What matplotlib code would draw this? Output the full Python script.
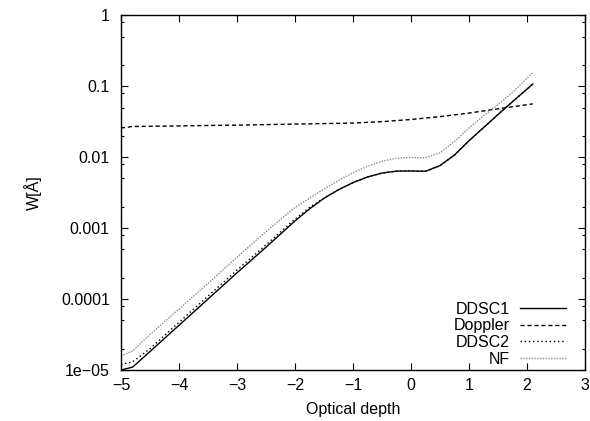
import matplotlib
matplotlib.use("Agg")
import matplotlib.pyplot as plt
from matplotlib.ticker import LogLocator, FixedLocator, FixedFormatter, NullFormatter

plt.rcParams['font.family'] = ['Liberation Sans', 'DejaVu Sans']
plt.rcParams['font.size'] = 11.5

# optical depth grid (log10 of tau)
depth = [-5.0, -4.8, -4.5, -4.0, -3.5, -3.0, -2.5, -2.0, -1.75, -1.5, -1.25,
         -1.0, -0.75, -0.5, -0.25, 0.0, 0.25, 0.5, 0.75, 1.0, 1.25, 1.5, 1.75, 2.1]

# equivalent widths in Angstrom
w_ddsc1 = [1.00e-5, 1.10e-5, 1.82e-5, 4.27e-5, 1.00e-4, 2.34e-4, 5.37e-4, 1.26e-3,
           1.86e-3, 2.63e-3, 3.47e-3, 4.37e-3, 5.25e-3, 5.96e-3, 6.35e-3, 6.38e-3,
           6.31e-3, 7.59e-3, 1.07e-2, 1.70e-2, 2.60e-2, 3.98e-2, 6.03e-2, 0.107]
w_doppler = [0.0257, 0.0270, 0.0272, 0.0275, 0.0279, 0.0282, 0.0287, 0.0292,
             0.0294, 0.0297, 0.0299, 0.0302, 0.0309, 0.0316, 0.0327, 0.0339,
             0.0355, 0.0372, 0.0394, 0.0417, 0.0447, 0.0479, 0.0513, 0.0562]
w_ddsc2 = [1.2e-5, 1.3e-5, 2.0e-5, 4.7e-5, 1.1e-4, 2.56e-4, 5.8e-4, 1.34e-3,
           1.95e-3, 2.65e-3, 3.47e-3, 4.37e-3, 5.25e-3, 5.96e-3, 6.35e-3, 6.38e-3,
           6.31e-3, 7.59e-3, 1.07e-2, 1.70e-2, 2.60e-2, 3.98e-2, 6.03e-2, 0.107]
w_nf = [1.58e-5, 1.86e-5, 3.16e-5, 7.24e-5, 1.66e-4, 3.89e-4, 8.91e-4, 1.95e-3,
        2.63e-3, 3.55e-3, 4.68e-3, 6.03e-3, 7.41e-3, 8.71e-3, 9.66e-3, 9.89e-3,
        9.77e-3, 1.15e-2, 1.66e-2, 2.57e-2, 3.80e-2, 5.50e-2, 8.13e-2, 0.155]

y_ticks = [1e-5, 1e-4, 1e-3, 1e-2, 1e-1, 1]
y_ticklabels = ['1e\u221205', '0.0001', '0.001', '0.01', '0.1', '1']

fig = plt.figure(figsize=(5.9, 4.21), dpi=100)
ax = fig.add_axes([0.205, 0.121, 0.7865, 0.843])

ax.plot(depth, w_ddsc1, color='black', lw=1.0, label='DDSC1')
ax.plot(depth, w_doppler, color='black', lw=1.0, dashes=(3, 2), label='Doppler')
ax.plot(depth, w_ddsc2, color='black', lw=1.0, dashes=(1, 2), label='DDSC2')
ax.plot(depth, w_nf, color='#8a8a8a', lw=1.0, dashes=(1, 1), label='NF')

ax.set_yscale('log')
ax.set_xlim(-5, 3)
ax.set_ylim(1e-5, 1)
ax.yaxis.set_major_locator(FixedLocator(y_ticks))
ax.yaxis.set_major_formatter(FixedFormatter(y_ticklabels))
ax.yaxis.set_minor_locator(LogLocator(base=10, subs=(2, 5, 8)))
ax.yaxis.set_minor_formatter(NullFormatter())
ax.set_xticks(range(-5, 4))

ax.tick_params(which='both', direction='in', top=True, right=True)
ax.tick_params(which='major', length=5, width=0.8)
ax.tick_params(which='minor', length=2.5, width=0.8)
ax.tick_params(axis='y', pad=8)
ax.tick_params(axis='x', pad=6)
for s in ax.spines.values():
    s.set_linewidth(1.0)

ax.set_xlabel('Optical depth', labelpad=6)
ax.set_ylabel('W[Å]', labelpad=14)

ax.legend(loc='lower right', frameon=False, markerfirst=False,
          handlelength=2.9, handletextpad=0.6, labelspacing=0.1,
          borderaxespad=0.3, bbox_to_anchor=(0.983, -0.022))

fig.savefig('out.png', dpi=100)
